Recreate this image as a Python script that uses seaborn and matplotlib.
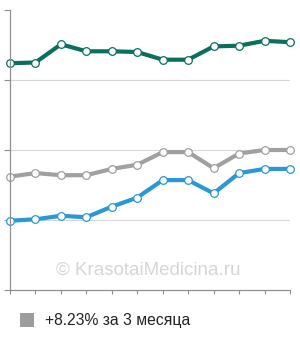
import matplotlib
matplotlib.use("Agg")
import matplotlib.pyplot as plt
import seaborn as sns
import pandas as pd
import numpy as np

points = list(range(12))
teal_vals = [3.24, 3.25, 3.51, 3.41, 3.41, 3.40, 3.29, 3.29, 3.48, 3.49, 3.56, 3.54]
gray_vals = [1.62, 1.67, 1.64, 1.64, 1.73, 1.79, 1.97, 1.97, 1.74, 1.95, 2.00, 2.00]
blue_vals = [0.99, 1.01, 1.06, 1.04, 1.19, 1.32, 1.57, 1.57, 1.38, 1.67, 1.73, 1.73]
legend_label = "+8.23% за 3 месяца"
watermark = "© KrasotaiMedicina.ru"

sns.set_theme(style="white")
plt.rcParams['font.family'] = ['Liberation Sans', 'DejaVu Sans']

fig = plt.figure(figsize=(3.0, 3.4), dpi=100)
ax = fig.add_axes([10/300, 50/340, 280/300, 280/340])

series = [(teal_vals, "#0b6f5f"), (gray_vals, "#a0a0a0"), (blue_vals, "#2a98d6")]
for vals, col in series:
    df = pd.DataFrame({"x": points, "y": vals})
    sns.lineplot(data=df, x="x", y="y", ax=ax, color=col, linewidth=3.0,
                 marker="o", markersize=5.5, markerfacecolor="white",
                 markeredgecolor=col, markeredgewidth=0.9, clip_on=False,
                 solid_joinstyle="round", solid_capstyle="round")

ax.set_xlim(0, 11)
ax.set_ylim(0, 4)
ax.set_yticks([0, 1, 2, 3, 4])
ax.set_xticks(points)
ax.set_xticklabels([])
ax.set_yticklabels([])
ax.set_xlabel("")
ax.set_ylabel("")
for y in [1, 2, 3]:
    ax.axhline(y, color="#d8d8d8", linewidth=0.8, zorder=0)
for s in ["top", "right"]:
    ax.spines[s].set_visible(False)
for s in ["left", "bottom"]:
    ax.spines[s].set_color("#909090")
    ax.spines[s].set_linewidth(0.9)
ax.tick_params(axis="y", left=True, length=4, width=0.8, color="#909090")
ax.tick_params(axis="x", bottom=True, length=3, width=0.8, color="#909090")

fig.text(148/300, 1 - 270/340, watermark, ha="center", va="center",
         fontsize=13.5, color="#d6d6d6")

fig.patches.append(plt.Rectangle((20/300, 1 - 327/340), 14/300, 14/340,
                                 transform=fig.transFigure, facecolor="#9c9c9c",
                                 edgecolor="none"))
fig.text(45/300, 1 - 320/340, legend_label, ha="left", va="center",
         fontsize=11.3, color="#222222")

fig.savefig("out.png", dpi=100)
